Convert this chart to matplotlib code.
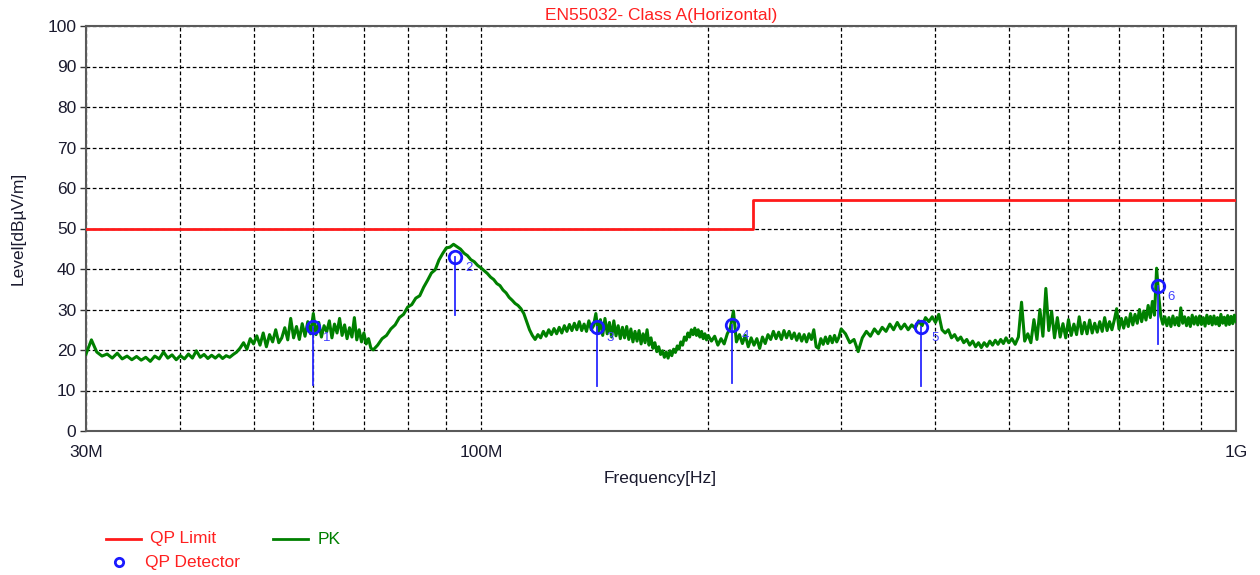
import matplotlib
matplotlib.use("Agg")
import matplotlib.pyplot as plt
from matplotlib.lines import Line2D
from matplotlib.ticker import FixedLocator, NullFormatter

plt.rcParams['font.family'] = ['Liberation Sans', 'DejaVu Sans']

# ---------------- data ----------------
title = "EN55032- Class A(Horizontal)"
x_label = "Frequency[Hz]"
y_label = "Level[dBµV/m]"

tick_freq_mhz = [30, 100, 1000]
tick_labels = ["30M", "100M", "1G"]
grid_freq_mhz = [40, 50, 60, 70, 80, 90, 200, 300, 400, 500, 600, 700, 800, 900]
y_ticks = [0, 10, 20, 30, 40, 50, 60, 70, 80, 90, 100]

limit_freq_mhz = [30, 229, 229, 1000]
limit_level = [50, 50, 57, 57]

pk_freq_a = [30.0, 30.5, 31.0, 31.5, 32.0, 32.5, 33.0, 33.5, 34.0, 34.5,
             35.0, 35.5, 36.0, 36.5, 37.0, 37.5, 38.0, 38.5, 39.0, 39.5,
             40.0, 40.5, 41.0, 41.5, 42.0, 42.5, 43.0, 43.5, 44.0, 44.5,
             45.0, 45.5, 46.0, 46.5, 47.0, 47.5, 48.0, 48.5, 49.0, 49.5, 50.0]
pk_level_a = [19.0, 22.5, 19.5, 18.5, 19.0, 18.0, 19.2, 17.8, 18.5, 17.6,
              18.4, 17.5, 18.2, 17.2, 18.5, 17.8, 19.5, 18.0, 18.8, 17.6,
              18.6, 17.8, 19.0, 18.0, 19.8, 18.2, 18.9, 17.9, 18.7, 18.0,
              18.8, 17.9, 18.6, 18.2, 18.9, 19.5, 20.5, 21.8, 20.2, 22.8, 21.5]

pk_freq_b1 = [50.5, 51.0, 51.5, 52.0, 52.5, 53.0, 53.5, 54.0, 54.5, 55.0,
              55.5, 56.0, 56.5, 57.0, 57.5, 58.0, 58.5, 59.0, 59.5, 60.0,
              60.5, 61.0, 61.5, 62.0, 62.5, 63.0, 63.5, 64.0, 64.5, 65.0,
              65.5, 66.0, 66.5, 67.0, 67.5, 68.0, 68.5, 69.0, 69.5, 70.0,
              70.5, 71.0, 71.5, 72.0]
pk_level_b1 = [23.5, 21.2, 24.2, 20.8, 23.8, 22.0, 25.0, 21.8, 23.0, 25.5,
               22.5, 27.8, 23.0, 25.8, 22.6, 26.5, 23.4, 27.0, 24.0, 29.0,
               23.8, 26.8, 23.2, 26.0, 24.5, 27.2, 23.0, 26.4, 24.2, 27.8,
               23.6, 26.2, 22.8, 25.5, 23.2, 28.0, 22.5, 25.0, 22.0, 24.2,
               21.5, 22.8, 20.5, 20.0]

pk_freq_b2 = [73, 74, 75, 76, 77, 78, 79, 80, 81, 82,
              83, 84, 85, 86, 87, 88, 89, 90, 91, 92,
              93, 94, 95, 96, 97, 98, 99, 100]
pk_level_b2 = [21.2, 22.8, 23.6, 25.2, 26.2, 28.0, 28.8, 30.6, 31.2, 32.8,
               33.4, 35.5, 37.2, 39.0, 39.8, 42.2, 43.8, 45.2, 45.4, 46.1,
               45.5, 44.9, 43.9, 43.3, 42.3, 41.8, 40.9, 40.3]

pk_freq_c = [101, 102, 103, 104, 105, 106, 107, 108, 109, 110,
             111, 112, 113, 114, 115, 116, 117, 118, 119, 120,
             121, 122, 123, 124, 125, 126, 127, 128, 129, 130,
             131, 132, 133, 134, 135, 136, 137, 138, 139, 140,
             141, 142, 143, 144, 145, 146, 147, 148, 149, 150,
             151, 152, 153, 154, 155, 156, 157, 158, 159, 160,
             161, 162, 163, 164, 165, 166, 167, 168, 169, 170,
             171, 172, 173, 174, 175, 176, 177, 178, 179, 180,
             181, 182, 183, 184, 185, 186, 187, 188, 189, 190,
             191, 192, 193, 194, 195, 196, 197, 198, 199, 200]
pk_level_c = [39.6, 38.9, 38.0, 37.4, 36.4, 35.9, 34.8, 34.1, 33.0, 32.3,
              31.5, 31.0, 30.2, 29.0, 27.0, 25.0, 23.6, 22.6, 23.8, 23.0,
              24.6, 23.4, 25.0, 23.8, 25.3, 24.0, 25.6, 24.2, 26.0, 24.6,
              26.3, 24.8, 26.6, 25.0, 27.0, 24.8, 26.4, 24.6, 27.2, 25.0,
              26.0, 29.0, 24.2, 27.5, 23.6, 27.8, 24.0, 26.8, 23.2, 27.2,
              23.5, 26.0, 22.8, 25.6, 23.0, 25.8, 22.6, 25.2, 22.0, 24.6,
              22.2, 24.8, 21.5, 24.0, 21.8, 25.0, 21.2, 23.0, 20.4, 21.8,
              19.6, 20.8, 18.9, 19.8, 18.2, 19.5, 18.0, 19.8, 18.6, 20.2,
              19.4, 21.0, 20.2, 22.0, 21.2, 23.2, 22.4, 24.2, 23.2, 25.0,
              23.8, 25.4, 23.6, 25.0, 23.2, 24.6, 22.8, 24.0, 22.5, 23.6]

pk_freq_d = [202, 204, 206, 208, 210, 212, 214, 216, 218, 220,
             222, 224, 226, 228, 230, 232, 234, 236, 238, 240,
             242, 244, 246, 248, 250, 252, 254, 256, 258, 260,
             262, 264, 266, 268, 270, 272, 274, 276, 278, 280,
             282, 284, 286, 288, 290, 292, 294, 296, 298, 300]
pk_level_d = [22.2, 23.4, 21.2, 22.8, 21.5, 24.0, 25.5, 29.6, 22.0, 23.8,
              21.6, 23.6, 20.8, 23.0, 21.2, 22.8, 20.4, 23.2, 21.6, 23.8,
              22.6, 24.6, 22.8, 24.4, 22.6, 24.8, 23.0, 24.6, 22.8, 24.2,
              22.4, 24.0, 22.2, 23.8, 22.0, 24.0, 22.6, 25.0, 20.8, 20.4,
              22.8, 21.4, 23.2, 21.6, 23.4, 21.8, 23.6, 22.0, 23.2, 25.2]

pk_freq_e = [304, 308, 312, 316, 320, 324, 328, 332, 336, 340,
             344, 348, 352, 356, 360, 364, 368, 372, 376, 380,
             384, 388, 392, 396, 400, 404, 408, 412, 416, 420,
             424, 428, 432, 436, 440, 444, 448, 452, 456, 460,
             464, 468, 472, 476, 480, 484, 488, 492, 496, 500]
pk_level_e = [24.0, 21.8, 22.6, 19.6, 23.0, 24.6, 23.4, 25.2, 24.0, 25.6,
              24.6, 26.4, 25.0, 26.8, 25.2, 26.4, 25.0, 26.2, 25.4, 27.2,
              26.0, 28.0, 27.0, 28.2, 26.8, 28.8, 25.0, 24.2, 25.0, 23.0,
              23.8, 22.4, 23.2, 21.8, 22.6, 21.2, 22.2, 20.8, 21.8, 20.6,
              21.8, 20.9, 22.2, 21.2, 22.4, 21.4, 22.6, 21.6, 23.0, 21.8]

pk_freq_f = [505, 510, 515, 520, 525, 530, 535, 540, 545, 550,
             555, 560, 565, 570, 575, 580, 585, 590, 595, 600,
             605, 610, 615, 620, 625, 630, 635, 640, 645, 650,
             655, 660, 665, 670, 675, 680, 685, 690, 695, 700,
             705, 710, 715, 720, 725, 730, 735, 740, 745, 750,
             755, 760, 765, 770, 775, 780, 785, 790, 795, 800,
             805, 810, 815, 820, 825, 830, 835, 840, 845, 850,
             855, 860, 865, 870, 875, 880, 885, 890, 895, 900,
             905, 910, 915, 920, 925, 930, 935, 940, 945, 950,
             955, 960, 965, 970, 975, 980, 985, 990, 995, 1000]
pk_level_f = [22.8, 21.4, 23.2, 31.8, 22.2, 24.0, 21.8, 27.5, 22.6, 30.0,
              23.4, 35.2, 24.8, 29.5, 23.0, 28.0, 23.2, 26.5, 23.0, 27.5,
              23.6, 26.4, 23.8, 28.2, 24.0, 26.8, 24.0, 27.4, 24.2, 26.6,
              24.4, 27.0, 24.6, 28.0, 24.8, 27.0, 25.0, 27.4, 30.2, 25.2,
              27.8, 25.4, 28.0, 25.8, 29.0, 26.2, 28.8, 26.6, 30.0, 27.0,
              29.6, 27.4, 31.0, 28.0, 32.0, 28.6, 40.2, 33.5, 28.4, 26.4,
              28.2, 26.0, 28.0, 25.8, 28.4, 26.2, 28.0, 26.0, 30.4, 26.6,
              28.2, 26.0, 28.0, 25.8, 28.6, 26.4, 28.2, 26.2, 28.4, 26.3,
              28.0, 25.9, 28.6, 26.5, 28.3, 26.2, 28.4, 26.4, 28.0, 26.0,
              28.8, 26.6, 28.1, 26.1, 28.5, 26.3, 28.3, 26.5, 28.6, 27.0]

qp_freq_mhz = [59.9, 92.5, 142.5, 215.0, 383.0, 788.0]
qp_level = [25.7, 43.0, 25.7, 26.2, 25.7, 35.8]
qp_stem_low = [11.4, 28.6, 11.1, 11.9, 11.1, 21.5]
qp_labels = ["1", "2", "3", "4", "5", "6"]

pk_freq = pk_freq_a + pk_freq_b1 + pk_freq_b2 + pk_freq_c + pk_freq_d + pk_freq_e + pk_freq_f
pk_level = pk_level_a + pk_level_b1 + pk_level_b2 + pk_level_c + pk_level_d + pk_level_e + pk_level_f

# ---------------- figure ----------------
W, H = 1260, 575
fig = plt.figure(figsize=(W / 100, H / 100), dpi=100)
ax = fig.add_axes([86 / W, 1 - 431 / H, (1236 - 86) / W, (431 - 26) / H])

ax.set_xscale('log')
ax.set_xlim(30, 1000)
ax.set_ylim(0, 100)

ax.plot(limit_freq_mhz, limit_level, color='#ff1a1a', lw=2.0, zorder=3)
ax.plot(pk_freq, pk_level, color='#008000', lw=2.2, zorder=4)

for f, lv, lo, lab in zip(qp_freq_mhz, qp_level, qp_stem_low, qp_labels):
    ax.plot([f, f], [lo, lv], color='#2a2aff', lw=1.3, zorder=5)
    ax.annotate(lab, (f, lv), xytext=(7, -8), textcoords='offset points',
                color='#4040ff', fontsize=9.5, ha='left', va='center', zorder=7)
ax.plot(qp_freq_mhz, qp_level, linestyle='none', marker='o', markersize=9,
        markerfacecolor='none', markeredgecolor='#1a1aff', markeredgewidth=2.0, zorder=6)

# ticks and grid
ax.xaxis.set_major_locator(FixedLocator(tick_freq_mhz))
ax.set_xticklabels(tick_labels)
ax.xaxis.set_minor_locator(FixedLocator(grid_freq_mhz))
ax.xaxis.set_minor_formatter(NullFormatter())
ax.set_yticks(y_ticks)

grid_kw = dict(color='black', linestyle=(0, (3, 2)), linewidth=0.9)
ax.grid(True, which='major', axis='both', **grid_kw)
ax.grid(True, which='minor', axis='x', **grid_kw)

ax.tick_params(axis='x', which='both', length=0, pad=10, labelsize=12.5, labelcolor='#1a1a2e')
ax.tick_params(axis='y', which='major', length=4, width=1, direction='out', pad=3,
               labelsize=12.5, labelcolor='#1a1a2e', color='#333333')

for sp in ax.spines.values():
    sp.set_color('#5a5a5a')
    sp.set_linewidth(1.5)

ax.set_title(title, color='#ff2020', fontsize=12.5, pad=4)
fig.text(660 / W, 1 - 479 / H, x_label, ha='center', va='center', fontsize=12.5, color='#1a1a2e')
fig.text(18 / W, 1 - 228 / H, y_label, ha='center', va='center', rotation=90,
         fontsize=12.5, color='#1a1a2e')

# legend (drawn manually beneath the plot)
fig.add_artist(Line2D([106 / W, 141 / W], [1 - 539 / H] * 2, color='#ff1a1a', lw=2.0))
fig.text(150 / W, 1 - 539 / H, "QP Limit", ha='left', va='center', fontsize=12.5, color='#ff2020')
fig.add_artist(Line2D([273 / W, 308 / W], [1 - 539 / H] * 2, color='#008000', lw=2.0))
fig.text(318 / W, 1 - 539 / H, "PK", ha='left', va='center', fontsize=12.5, color='#008000')
fig.add_artist(Line2D([119 / W], [1 - 562 / H], linestyle='none', marker='o', markersize=6,
                      markerfacecolor='none', markeredgecolor='#1a1aff', markeredgewidth=2.0))
fig.text(145 / W, 1 - 562 / H, "QP Detector", ha='left', va='center', fontsize=12.5, color='#ff2020')

fig.savefig("out.png", dpi=100)
